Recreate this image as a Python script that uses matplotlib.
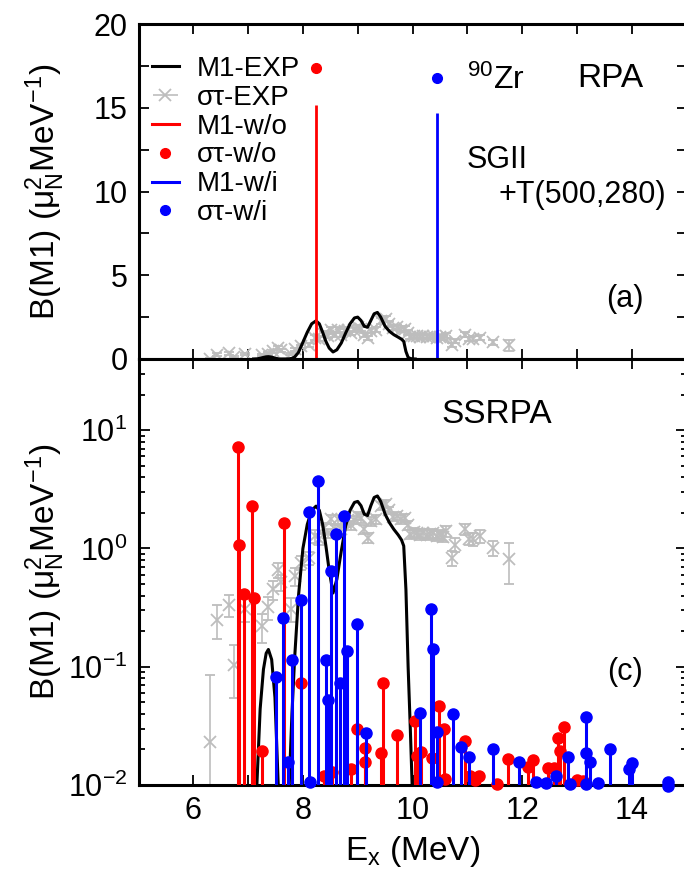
import numpy as np
import matplotlib
matplotlib.use('Agg')
import matplotlib.pyplot as plt
from matplotlib.lines import Line2D
from matplotlib.legend_handler import HandlerErrorbar
from matplotlib.ticker import MultipleLocator, LogLocator, NullFormatter

plt.rcParams['font.family'] = ['Liberation Sans', 'DejaVu Sans']
plt.rcParams['mathtext.fontset'] = 'custom'
plt.rcParams['mathtext.rm'] = 'Liberation Sans'
plt.rcParams['mathtext.it'] = 'Liberation Sans:italic'
plt.rcParams['mathtext.bf'] = 'Liberation Sans:bold'
plt.rcParams['mathtext.sf'] = 'Liberation Sans'

RED = '#ff0000'
BLUE = '#0000ff'
GREY = '#bdbdbd'

# ── M1 experiment (smooth curve) ─────────────────────────────────────────────
m1_exp_e = [7.10, 7.16, 7.22, 7.28, 7.33, 7.37, 7.43, 7.49, 7.55, 7.60,
            7.70, 7.75, 7.80, 7.85, 7.92, 8.00, 8.08, 8.16, 8.24, 8.30,
            8.36, 8.42, 8.48, 8.55, 8.62, 8.70, 8.78, 8.86, 8.94, 9.00,
            9.06, 9.12, 9.18, 9.24, 9.30, 9.36, 9.42, 9.50, 9.58, 9.66,
            9.74, 9.80, 9.84, 9.88, 9.92, 9.96, 10.00, 10.05]
m1_exp_b = [0.002, 0.010, 0.044, 0.095, 0.13, 0.14, 0.115, 0.055, 0.010, 0.001,
            0.002, 0.010, 0.04, 0.12, 0.40, 1.0, 1.6, 2.1, 2.28, 2.1,
            1.6, 1.05, 0.65, 0.42, 0.55, 0.95, 1.55, 2.1, 2.45, 2.5,
            2.3, 1.95, 1.9, 2.3, 2.7, 2.78, 2.5, 1.95, 1.65, 1.45,
            1.3, 1.18, 1.05, 0.45, 0.1, 0.03, 0.008, 0.001]

# ── sigma-tau experiment (points with error bars) ────────────────────────────
st_exp_e = [6.31, 6.44, 6.66, 6.75, 6.94, 7.25, 7.37, 7.46, 7.55, 7.60,
            7.79, 7.85, 7.97, 8.12, 8.22, 8.30, 8.39, 8.45, 8.51, 8.58,
            8.64, 8.70, 8.76, 8.82, 8.88, 8.94, 9.00, 9.06, 9.12, 9.18,
            9.24, 9.33, 9.42, 9.51, 9.57, 9.64, 9.71, 9.79, 9.87, 9.91,
            9.96, 10.02, 10.08, 10.14, 10.20, 10.26, 10.32, 10.38, 10.44, 10.50,
            10.56, 10.62, 10.72, 10.78, 10.96, 11.04, 11.11, 11.23, 11.46, 11.76]
st_exp_b = [0.023, 0.25, 0.335, 0.104, 0.31, 0.22, 0.32, 0.45, 0.66, 0.52,
            0.31, 0.58, 0.76, 0.83, 1.27, 1.20, 1.50, 1.35, 1.76, 1.45,
            1.76, 1.45, 1.67, 1.75, 1.57, 1.75, 1.90, 1.80, 1.45, 1.23,
            1.70, 1.76, 2.28, 2.40, 2.10, 1.86, 1.90, 1.76, 1.82, 1.57,
            1.32, 1.38, 1.35, 1.30, 1.35, 1.30, 1.32, 1.35, 1.28, 1.30,
            1.25, 1.40, 0.83, 1.08, 1.45, 1.20, 1.20, 1.28, 1.01, 0.81]
st_exp_err = [0.062, 0.08, 0.07, 0.05, 0.07, 0.06, 0.07, 0.08, 0.10, 0.08,
              0.07, 0.10, 0.10, 0.10, 0.15, 0.12, 0.15, 0.12, 0.15, 0.12,
              0.15, 0.12, 0.15, 0.15, 0.13, 0.15, 0.15, 0.15, 0.12, 0.12,
              0.15, 0.15, 0.18, 0.18, 0.16, 0.15, 0.15, 0.15, 0.15, 0.14,
              0.12, 0.12, 0.12, 0.12, 0.12, 0.12, 0.12, 0.12, 0.12, 0.12,
              0.12, 0.14, 0.12, 0.14, 0.16, 0.14, 0.15, 0.16, 0.15, 0.31]

# ── RPA (panel a) ────────────────────────────────────────────────────────────
rpa_wo_e, rpa_wo_m1, rpa_wo_st = [8.23], [15.15], [17.4]
rpa_wi_e, rpa_wi_m1, rpa_wi_st = [10.44], [14.67], [16.8]

# ── SSRPA (panel c) ──────────────────────────────────────────────────────────
ss_wo_e = [6.81, 6.84, 6.93, 7.08, 7.10, 7.25, 7.66, 7.97, 8.38, 8.53,
           8.88, 8.98, 9.13, 9.14, 9.42, 9.47, 9.71, 10.05, 10.08, 10.16,
           10.35, 10.48, 10.58, 10.60, 10.96, 11.05, 11.14, 11.22, 11.55, 11.75,
           12.11, 12.19, 12.48, 12.59, 12.65, 12.70, 12.76, 13.00, 13.12]
ss_wo_b = [7.2, 1.08, 0.41, 2.28, 0.38, 0.0195, 1.65, 0.073, 0.012, 0.013,
           0.0136, 0.0296, 0.0158, 0.0204, 0.0188, 0.073, 0.0265, 0.035, 0.0175, 0.019,
           0.017, 0.047, 0.030, 0.0113, 0.0237, 0.012, 0.011, 0.012, 0.0101, 0.0165,
           0.0143, 0.0163, 0.0139, 0.014, 0.025, 0.0195, 0.031, 0.011, 0.0108]

ss_wi_e = [7.51, 7.63, 7.73, 7.81, 7.97, 8.11, 8.13, 8.28, 8.42, 8.46,
           8.52, 8.61, 8.68, 8.75, 8.80, 8.99, 9.15, 10.13, 10.33, 10.37,
           10.44, 10.44, 10.73, 10.88, 11.03, 11.47, 11.95, 12.25, 12.44, 12.61,
           12.84, 12.87, 13.16, 13.16, 13.23, 13.17, 13.38, 13.61, 13.95, 14.01,
           14.66, 14.67]
ss_wi_b = [0.082, 0.26, 0.0155, 0.113, 0.365, 2.05, 0.0105, 3.7, 0.113, 0.052,
           0.65, 1.32, 0.073, 1.88, 0.137, 0.23, 0.0274, 0.041, 0.31, 0.141,
           0.0283, 0.0105, 0.040, 0.0211, 0.0172, 0.020, 0.0155, 0.0105, 0.0104, 0.012,
           0.0172, 0.0101, 0.0375, 0.0186, 0.0155, 0.0102, 0.0103, 0.020, 0.0136, 0.0152,
           0.0106, 0.0099]

# ── Figure ───────────────────────────────────────────────────────────────────
W, H = 684, 876
fig = plt.figure(figsize=(W / 100, H / 100), dpi=100)
left, width = 138.5 / W, 548 / W
ax1 = fig.add_axes([left, (H - 359) / H, width, 335 / H])
ax2 = fig.add_axes([left, (H - 785) / H, width, 426 / H])

for ax in (ax1, ax2):
    for sp in ax.spines.values():
        sp.set_linewidth(2.2)
    ax.tick_params(which='both', direction='in', top=True, right=True,
                   width=1.3, labelsize=22, pad=8)
    ax.set_xlim(5, 15)
    ax.xaxis.set_major_locator(MultipleLocator(2))
    ax.xaxis.set_minor_locator(MultipleLocator(1))
    ax.tick_params(axis='x', which='both', length=7)

errstyle = dict(fmt='x', color=GREY, ms=8, mew=1.3, elinewidth=1.2,
                capsize=3.8, capthick=1.2)

# panel (a): linear scale
ax1.plot(m1_exp_e, m1_exp_b, color='black', lw=2.2, zorder=3)
ax1.errorbar(st_exp_e, st_exp_b, yerr=st_exp_err, zorder=2, **errstyle)
ax1.vlines(rpa_wo_e, 0, rpa_wo_m1, color=RED, lw=2.0, zorder=4)
ax1.plot(rpa_wo_e, rpa_wo_st, 'o', color=RED, ms=7, zorder=5)
ax1.vlines(rpa_wi_e, 0, rpa_wi_m1, color=BLUE, lw=2.0, zorder=4)
ax1.plot(rpa_wi_e, rpa_wi_st, 'o', color=BLUE, ms=7, zorder=5)

ax1.set_ylim(0, 20)
ax1.yaxis.set_major_locator(MultipleLocator(5))
ax1.yaxis.set_minor_locator(MultipleLocator(2.5))
ax1.tick_params(axis='y', which='both', length=7)
ax1.tick_params(axis='x', labelbottom=False)

# panel (c): log scale
floor = 1e-3
ax2.plot(m1_exp_e, m1_exp_b, color='black', lw=2.2, zorder=3)
ax2.errorbar(st_exp_e, st_exp_b, yerr=st_exp_err, zorder=2, **errstyle)
ax2.vlines(ss_wo_e, floor, ss_wo_b, color=RED, lw=2.2, zorder=4)
ax2.plot(ss_wo_e, ss_wo_b, 'o', color=RED, ms=8, zorder=5, clip_on=False)
ax2.vlines(ss_wi_e, floor, ss_wi_b, color=BLUE, lw=2.2, zorder=6)
ax2.plot(ss_wi_e, ss_wi_b, 'o', color=BLUE, ms=8, zorder=7, clip_on=False)

ax2.set_yscale('log')
ax2.set_ylim(0.01, 40)
ax2.yaxis.set_major_locator(LogLocator(base=10, numticks=10))
ax2.yaxis.set_minor_locator(LogLocator(base=10, subs=np.arange(2, 10), numticks=10))
ax2.yaxis.set_minor_formatter(NullFormatter())
ax2.tick_params(axis='y', which='major', length=8)
ax2.tick_params(axis='y', which='minor', length=4.5)

ylab = r'B(M1) ($\mathrm{\mu}_{\mathrm{N}}^{2}$MeV$^{-1}$)'
for ax in (ax1, ax2):
    ax.set_ylabel(ylab, fontsize=24)
    ax.yaxis.set_label_coords(-0.13, 0.5)
ax2.set_xlabel(r'E$_{\mathrm{x}}$ (MeV)', fontsize=24, labelpad=6)

# texts
ax1.text(0.5995, 0.806, r'$^{90}$Zr', transform=ax1.transAxes, fontsize=23,
         ha='left', va='baseline')
ax1.text(0.800, 0.812, 'RPA', transform=ax1.transAxes, fontsize=24,
         ha='left', va='baseline')
ax1.text(0.5995, 0.570, 'SGII', transform=ax1.transAxes, fontsize=22,
         ha='left', va='baseline')
ax1.text(0.9626, 0.466, '+T(500,280)', transform=ax1.transAxes, fontsize=22,
         ha='right', va='baseline')
ax1.text(0.9224, 0.155, '(a)', transform=ax1.transAxes, fontsize=22,
         ha='right', va='baseline')
ax2.text(0.552, 0.85, 'SSRPA', transform=ax2.transAxes, fontsize=24,
         ha='left', va='baseline')
ax2.text(0.9206, 0.2465, '(c)', transform=ax2.transAxes, fontsize=22,
         ha='right', va='baseline')

# legend
st_proxy = ax1.errorbar([], [], xerr=[], **errstyle)
handles = [
    Line2D([], [], color='black', lw=2.2),
    st_proxy,
    Line2D([], [], color=RED, lw=2.2),
    Line2D([], [], color=RED, marker='o', ls='none', ms=7),
    Line2D([], [], color=BLUE, lw=2.2),
    Line2D([], [], color=BLUE, marker='o', ls='none', ms=7),
]
labels = ['M1-EXP', 'στ-EXP', 'M1-w/o', 'στ-w/o', 'M1-w/i', 'στ-w/i']
ax1.legend(handles, labels, loc='upper left', bbox_to_anchor=(0.0246, 0.904),
           frameon=False, fontsize=20, handlelength=0.97, handletextpad=0.65,
           labelspacing=0.1, borderpad=0, borderaxespad=0,
           handler_map={type(st_proxy): HandlerErrorbar(xerr_size=0.45)})

fig.savefig('out.png', dpi=100)
